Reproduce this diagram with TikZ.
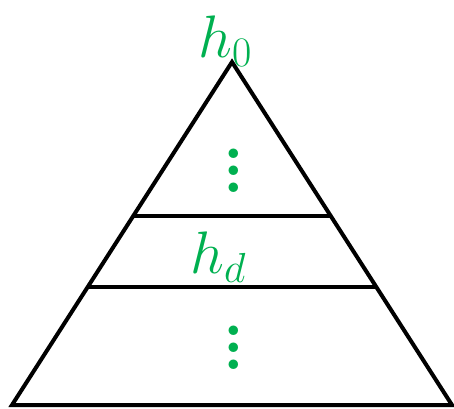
\documentclass[tikz,border=0pt]{standalone}
\usepackage{fix-cm}
\usepackage{tikz}
\usetikzlibrary{calc,positioning}
\definecolor{hgreen}{RGB}{0,176,80}
\tikzset{
myEdge/.style={
	draw=black, line width=4pt, line join=miter
}
, myLabel/.style={
	text=hgreen, inner sep=0pt,
	font=\fontsize{60}{62}\selectfont
}
, myDot/.style={
	text=hgreen, inner sep=0pt,
	font=\bfseries\fontsize{66}{68}\selectfont
}
}

\begin{document}
\begin{tikzpicture}[x=1pt,y=-1pt]
	\useasboundingbox (0,0) rectangle (454,408);
	% corners
	\coordinate (Top) at (232,62);
	\coordinate (BaseL) at (12,405);
	\coordinate (BaseR) at (452,405);
	% cut lines
	\coordinate (UpL) at ($(Top)!0.449!(BaseL)$);
	\coordinate (UpR) at ($(Top)!0.449!(BaseR)$);
	\coordinate (LowL) at ($(Top)!0.656!(BaseL)$);
	\coordinate (LowR) at ($(Top)!0.656!(BaseR)$);

	% triangle
	\draw[myEdge] (BaseL) -- (Top) -- (BaseR) -- cycle;
	\draw[myEdge] (UpL) -- (UpR);
	\draw[myEdge] (LowL) -- (LowR);

	% labels
	\node[myLabel, anchor=base west] (H0) at (198,57) {$h_0$};
	\node[myLabel, anchor=base west] (Hd) at (190,273) {$h_d$};
	% dots
	\foreach \i/\y in {1/154,2/171,3/188}
		\node[myDot] (DotUp\i) at (234,\y) {.};
	\foreach \i/\y in {1/331,2/348,3/365}
		\node[myDot] (DotLow\i) at (234,\y) {.};
\end{tikzpicture}
\end{document}
